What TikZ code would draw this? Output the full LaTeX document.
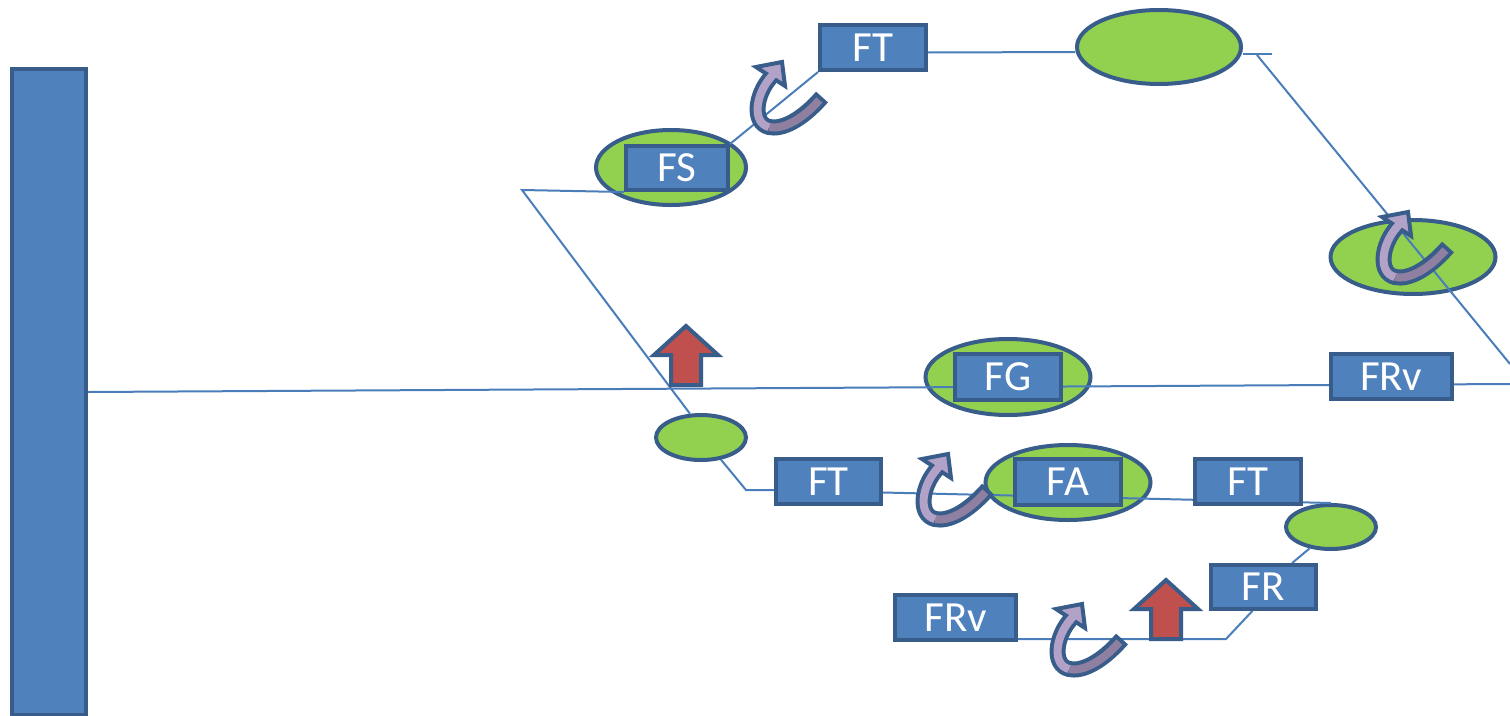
\documentclass[tikz,border=0pt]{standalone}
\usepackage{fontspec}
\setmainfont{Carlito}
\usetikzlibrary{shapes.geometric}

\definecolor{boxblue}{HTML}{4F81BD}
\definecolor{rimblue}{HTML}{385D8A}
\definecolor{wireblue}{HTML}{4A7EBB}
\definecolor{leafgreen}{HTML}{92D050}
\definecolor{raisered}{HTML}{C0504D}
\definecolor{turnlight}{HTML}{B3A2C7}
\definecolor{turndark}{HTML}{8F7FA1}

\pgfdeclarelayer{blobs}
\pgfdeclarelayer{wires}
\pgfsetlayers{blobs,wires,main}

% curled arrow, #1 = lowest point of the loop
\newcommand{\turnarrow}[1]{%
  \begin{scope}[shift={(#1)}]
    \draw[rimblue, line width=16pt] (45,-38) .. controls (25,-15) and (5,-5) .. (-8,-8)
      .. controls (-25,-12) and (-22,-40) .. (-6,-58);
    \draw[turndark, line width=8pt, shorten <=4pt] (45,-38) .. controls (25,-15) and (5,-5) .. (-8,-8);
    \draw[turnlight, line width=8pt] (-8,-8) .. controls (-25,-12) and (-22,-40) .. (-6,-58);
    \filldraw[fill=turnlight, draw=rimblue, line width=4pt] (-21,-68) -- (5,-73) -- (8,-49) -- cycle;
    \draw[turnlight, line width=8pt] (-8,-55.7) -- (-4,-60.3);
  \end{scope}}

% block arrow pointing up, #1 = middle of its foot
\newcommand{\raisearrow}[1]{%
  \begin{scope}[shift={(#1)}]
    \draw[raise] (-15,-2) -- (-15,-32) -- (-32,-32) -- (0,-61) -- (32,-32) -- (15,-32) -- (15,-2) -- cycle;
  \end{scope}}

\begin{document}
\begin{tikzpicture}[
        x=1pt, y=-1pt,
        fbox/.style={rectangle, draw=rimblue, fill=boxblue, line width=4pt, inner sep=0pt,
            minimum width=106pt, minimum height=45pt, text=white, font=\fontsize{43}{43}\selectfont},
        wide/.style={minimum width=121pt},
        blob/.style={ellipse, draw=rimblue, fill=leafgreen, line width=4pt, inner sep=0pt},
        wire/.style={wireblue, line width=2pt},
        raise/.style={draw=rimblue, fill=raisered, line width=4pt}
    ]

        \useasboundingbox (0,0) rectangle (1510,715);

        \coordinate (kneeA) at (522,190);
        \coordinate (kneeB) at (746,490);
        \coordinate (kneeC) at (1257,55);
        \coordinate (kneeD) at (1226,639);
        \coordinate (spineEnd) at (1510,384);
        \coordinate (slopeEnd) at (1510,364);

        \node[draw=rimblue, fill=boxblue, line width=4pt, inner sep=0pt,
            minimum width=74pt, minimum height=646pt] (bar) at (49,392) {};

        \begin{pgfonlayer}{blobs}
            \fill[white] (0,0) rectangle (1510,715);
            \node[blob, minimum width=150pt, minimum height=75pt] (ellFS) at (671,167.5) {};
            \node[blob, minimum width=164pt, minimum height=74pt] (ellTop) at (1159,47) {};
            \node[blob, minimum width=165pt, minimum height=74pt] (ellRight) at (1413,257) {};
            \node[blob, minimum width=165pt, minimum height=76pt] (ellFG) at (1008,377) {};
            \node[blob, minimum width=165pt, minimum height=75pt] (ellFA) at (1068,482.5) {};
            \node[blob, minimum width=90pt, minimum height=45pt] (ellL) at (701,437.5) {};
            \node[blob, minimum width=90pt, minimum height=44pt] (ellR) at (1331,527) {};
        \end{pgfonlayer}

        \node[fbox] (ftTop) at (873,47.5) {FT};
        \node[fbox, minimum width=102pt, minimum height=44pt] (fs) at (677,168) {FS};
        \node[fbox, minimum height=46pt] (fg) at (1008,377) {FG};
        \node[fbox, wide] (frvRight) at (1391,376.5) {FRv};
        \node[fbox, minimum width=105pt] (ftLeft) at (828.5,481.5) {FT};
        \node[fbox, minimum height=46pt] (fa) at (1068,482) {FA};
        \node[fbox] (ftRight) at (1248,481.5) {FT};
        \node[fbox, minimum width=105pt, minimum height=44pt] (fr) at (1263.5,587) {FR};
        \node[fbox, wide] (frvBottom) at (955.5,617.5) {FRv};

        \begin{pgfonlayer}{wires}
            \draw[wire] (bar.east) -- (spineEnd);
            \draw[wire] (fs.south west) -- (kneeA) -- (ellL.115);
            \draw[wire] (ellL.-48) -- (kneeB) -- (kneeB -| ftLeft.west);
            \draw[wire] (fs.north east) -- (ftTop.south west);
            \draw[wire] ([yshift=-5pt]ftTop.east) -- ([yshift=-5pt]ellTop.west);
            \draw[wire] ([yshift=-7pt]ellTop.east) -- ++(29,0);
            \draw[wire] (kneeC) -- (slopeEnd);
            \draw[wire] ([yshift=-11pt]ftLeft.east) -- (ellR.north);
            \draw[wire] (ellR.-135) -- (fr.40);
            \draw[wire] (fr.-115) -- (kneeD) -- (kneeD -| frvBottom.east);
        \end{pgfonlayer}

        \raisearrow{686,387}
        \raisearrow{1166,641}

        \turnarrow{777,135}
        \turnarrow{1403,285}
        \turnarrow{943,527}
        \turnarrow{1077,677}
    \end{tikzpicture}
\end{document}
